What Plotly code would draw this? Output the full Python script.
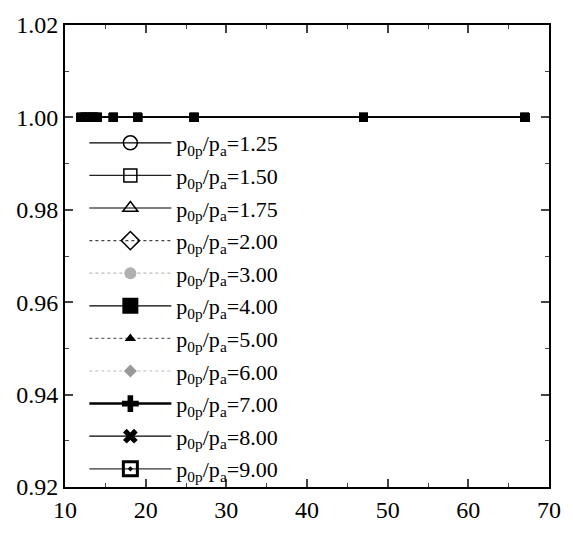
import plotly.graph_objects as go

ratios = ["1.25", "1.50", "1.75", "2.00", "3.00", "4.00", "5.00", "6.00", "7.00", "8.00", "9.00"]
x_vals = [12, 12.5, 13, 13.5, 14, 16, 19, 26, 47, 67]
y_vals = [1.0, 1.0, 1.0, 1.0, 1.0, 1.0, 1.0, 1.0, 1.0, 1.0]

symbols = ["circle-open", "square-open", "triangle-up-open", "diamond-open", "circle",
           "square", "triangle-up", "diamond", "cross", "x", "square-open-dot"]
colors = ["black", "black", "black", "black", "#b0b0b0", "black", "black", "#999999",
          "black", "black", "black"]
line_colors = ["black", "#222222", "black", "#444444", "#bbbbbb", "black", "#666666", "#bbbbbb",
               "black", "black", "#333333"]
dashes = ["solid", "solid", "solid", "dot", "dot", "solid", "dot", "dot", "solid", "solid", "solid"]
leg_sizes = [14, 13, 13, 14, 12, 16, 10, 10, 14, 13, 14]

fig = go.Figure()

# data traces (4.00 drawn last so it sits on top)
order = [i for i in range(len(ratios)) if ratios[i] != "4.00"] + [ratios.index("4.00")]
for i in order:
    fig.add_trace(go.Scatter(
        x=x_vals, y=y_vals, mode="lines+markers", showlegend=False,
        line=dict(color="black", width=1.2),
        marker=dict(symbol="square", size=9, color="black"),
        hoverinfo="skip",
    ))

# legend entries
for i, r in enumerate(ratios):
    sym = symbols[i]
    lw = 3 if sym == "square-open-dot" else 1.5
    fig.add_trace(go.Scatter(
        x=[None], y=[None], mode="lines+markers",
        name=f"p<sub>0p</sub>/p<sub>a</sub>=" + r,
        legendgroup=r,
        line=dict(color=line_colors[i], width=2.5 if r == "7.00" else 1.2, dash=dashes[i]),
        marker=dict(symbol=sym, size=leg_sizes[i], color=colors[i],
                    line=dict(color=colors[i], width=lw if "open" in sym else 0)),
    ))

fig.update_layout(
    width=573, height=535,
    margin=dict(l=65, r=16, t=18, b=37),
    paper_bgcolor="white", plot_bgcolor="white",
    font=dict(family="Liberation Serif", color="black", size=24),
    showlegend=True,
    legend=dict(
        x=0.04, y=0.79, xanchor="left", yanchor="top",
        bgcolor="rgba(0,0,0,0)", font=dict(size=22, family="Liberation Serif"),
        tracegroupgap=1, itemwidth=82,
    ),
)
fig.update_xaxes(
    range=[10, 70], dtick=10, tick0=10, ticks="inside", ticklen=8, tickwidth=1.5,
    showline=True, linewidth=2, linecolor="black", mirror="allticks",
    showgrid=False, zeroline=False,
    minor=dict(dtick=5, ticks="inside", ticklen=4, tickwidth=1.2, showgrid=False),
)
fig.update_yaxes(
    range=[0.92, 1.02], dtick=0.02, tick0=0.92, tickformat=".2f",
    ticks="inside", ticklen=8, tickwidth=1.5,
    showline=True, linewidth=2, linecolor="black", mirror="allticks",
    showgrid=False, zeroline=False,
    minor=dict(dtick=0.01, ticks="inside", ticklen=4, tickwidth=1.2, showgrid=False),
)

fig.write_html("out.html")
